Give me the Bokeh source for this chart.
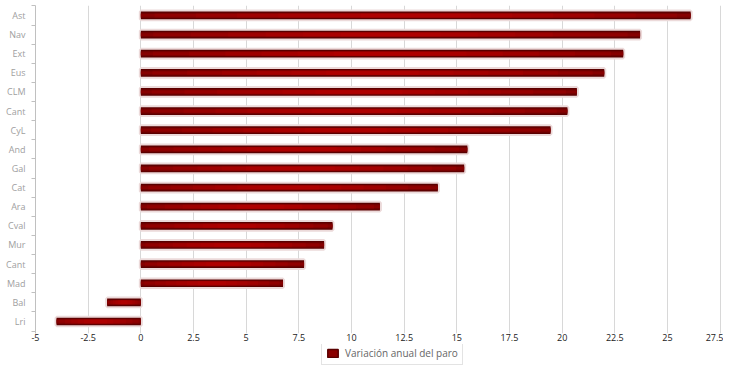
from bokeh.plotting import figure
from bokeh.layouts import column
from bokeh.models import FixedTicker, Legend, LegendItem, ColumnDataSource, Range1d
from bokeh.embed import file_html
from bokeh.resources import INLINE

regions = ["Ast", "Nav", "Ext", "Eus", "CLM", "Cant", "CyL", "And", "Gal", "Cat",
           "Ara", "Cval", "Mur", "Cant", "Mad", "Bal", "Lri"]
values = [26.1, 23.7, 22.9, 22.0, 20.7, 20.25, 19.45, 15.5, 15.35, 14.1,
          11.35, 9.1, 8.7, 7.75, 6.75, -1.6, -4.0]
x_ticks = [-5, -2.5, 0, 2.5, 5, 7.5, 10, 12.5, 15, 17.5, 20, 22.5, 25, 27.5]
x_tick_labels = ["-5", "-2.5", "0", "2.5", "5", "7.5", "10", "12.5", "15", "17.5",
                 "20", "22.5", "25", "27.5"]
series_name = "Variación anual del paro"

n = len(regions)
ypos = [n - 1 - i for i in range(n)]
src = ColumnDataSource(dict(y=ypos, right=values, left=[0] * n))

W = 723
p = figure(width=W, height=344, output_backend="svg", toolbar_location=None,
           x_range=Range1d(-5, 27.66), y_range=Range1d(-0.63, 16.52),
           min_border_left=35, min_border_right=0, min_border_top=5,
           min_border_bottom=11, outline_line_color=None)

# bar halo
p.hbar(y="y", left="left", right="right", height=0.40, source=src,
       fill_color="#ecdada", line_color="#ecdada", line_width=4)
# dark body
main = p.hbar(y="y", left="left", right="right", height=0.40, source=src,
              fill_color="#5a0000", line_color=None)
p.hbar(y="y", left="left", right="right", height=0.28, source=src,
       fill_color="#720000", line_color=None)
p.hbar(y="y", left="left", right="right", height=0.14, source=src,
       fill_color="#860000", line_color=None)
# horizontal glow towards the middle of each bar
for frac in (0.95, 0.8, 0.65, 0.5, 0.35, 0.2):
    lo = [v * (0.5 - frac / 2) for v in values]
    hi = [v * (0.5 + frac / 2) for v in values]
    gsrc = ColumnDataSource(dict(y=ypos, left=lo, right=hi))
    p.hbar(y="y", left="left", right="right", height=0.24, source=gsrc,
           fill_color="#d00000", fill_alpha=0.14, line_color=None)

# axes
p.xaxis.ticker = FixedTicker(ticks=x_ticks)
p.xaxis.major_label_overrides = {t: l for t, l in zip(x_ticks, x_tick_labels)}
p.xaxis.axis_line_color = None
p.xaxis.major_tick_out = 0
p.xaxis.major_tick_in = 0
p.xaxis.minor_tick_line_color = None
p.xaxis.major_label_text_font = "Open Sans"
p.xaxis.major_label_text_font_size = "9px"
p.xaxis.major_label_text_color = "#222222"
p.xaxis.major_label_standoff = 0

p.yaxis.ticker = FixedTicker(ticks=ypos, minor_ticks=[y + 0.5 for y in range(-1, n)])
p.yaxis.major_label_overrides = {y: r for y, r in zip(ypos, regions)}
p.yaxis.axis_line_color = "#c0c0c0"
p.yaxis.major_tick_out = 0
p.yaxis.major_tick_in = 0
p.yaxis.minor_tick_out = 4
p.yaxis.minor_tick_in = 0
p.yaxis.minor_tick_line_color = "#c0c0c0"
p.yaxis.major_label_text_font = "Open Sans"
p.yaxis.major_label_text_font_size = "9px"
p.yaxis.major_label_text_color = "#a0a0a0"
p.yaxis.major_label_standoff = 6

p.xgrid.ticker = FixedTicker(ticks=x_ticks)
p.xgrid.grid_line_color = "#d8d8d8"
p.ygrid.grid_line_color = None

# legend strip
lg = figure(width=W, height=22, output_backend="svg", toolbar_location=None,
            x_range=Range1d(0, 1), y_range=Range1d(0, 1),
            min_border=0, outline_line_color=None)
lg.axis.visible = False
lg.grid.visible = False
key_src = ColumnDataSource(dict(x=[-1.0], y=[-1.0]))  # off-canvas key sample
key = lg.rect(x="x", y="y", width=0.1, height=0.1, source=key_src,
              fill_color="#8a0000", line_color="#5a0000", line_width=1.5)
legend = Legend(items=[LegendItem(label=series_name, renderers=[key])],
                location=(286, 1), orientation="horizontal",
                border_line_color="#c8c8c8", border_line_width=1,
                background_fill_color="white",
                label_text_font="Open Sans", label_text_font_size="10px",
                label_text_color="#666666", glyph_width=13, glyph_height=10,
                padding=4, margin=0, label_standoff=6)
lg.add_layout(legend, "center")

open("out.html", "w").write(file_html(column(p, lg, spacing=0), INLINE))
